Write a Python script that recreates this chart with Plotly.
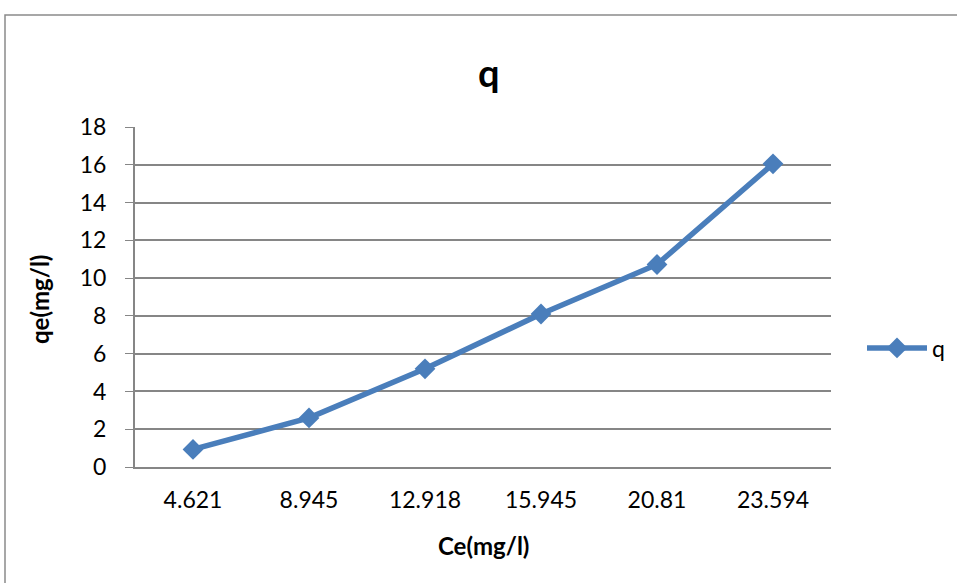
import plotly.graph_objects as go

# Equilibrium concentration (category labels) and adsorbed amount
ce_labels = ["4.621", "8.945", "12.918", "15.945", "20.81", "23.594"]
qe_values = [0.93, 2.6, 5.2, 8.1, 10.72, 16.05]
y_ticks = [0, 2, 4, 6, 8, 10, 12, 14, 16, 18]

W, H = 957, 583
L, R, T, B = 135, 126, 127, 116
pw, ph = W - L - R, H - T - B

FONT = "Lato, Liberation Sans, Arial, sans-serif"
BLUE = "#4A7EBB"
GRID = "#868686"

fig = go.Figure()
fig.add_trace(go.Scatter(
    x=ce_labels, y=qe_values, name="q", mode="lines+markers",
    line=dict(color=BLUE, width=5.5),
    marker=dict(symbol="diamond", size=16, color=BLUE),
))

def px_x(px):
    return (px - L) / pw

def px_y(py):
    return (H - B - py) / ph

fig.update_layout(
    width=W, height=H,
    margin=dict(l=L, r=R, t=T, b=B, autoexpand=False),
    paper_bgcolor="white", plot_bgcolor="white",
    font=dict(family=FONT, size=23, color="black"),
    showlegend=True,
    legend=dict(x=px_x(862), y=px_y(348), xanchor="left", yanchor="middle",
                itemwidth=60, font=dict(size=23), bgcolor="rgba(0,0,0,0)"),
    xaxis=dict(type="category", showgrid=False, showline=True,
               linecolor=GRID, linewidth=2, ticks="", tickfont=dict(size=23),
               ticklabelstandoff=11,
               range=[-0.5, 5.5], fixedrange=True),
    yaxis=dict(range=[0, 18], tickvals=y_ticks, showgrid=True,
               gridcolor=GRID, gridwidth=1.5, showline=True, linecolor=GRID,
               linewidth=2, ticks="outside", ticklen=8, tickcolor=GRID,
               ticklabelstandoff=14,
               tickfont=dict(size=23), zeroline=False, fixedrange=True),
    annotations=[
        dict(text="<b>q</b>", x=px_x(489), y=px_y(72), xref="paper", yref="paper",
             xanchor="center", yanchor="middle",
             showarrow=False, font=dict(size=38, family=FONT)),
        dict(text="<b>qe(mg/l)</b>", x=px_x(39), y=px_y(300), xref="paper",
             yref="paper", xanchor="center", yanchor="middle",
             showarrow=False, textangle=-90,
             font=dict(size=24, family=FONT)),
        dict(text="<b>Ce(mg/l)</b>", x=px_x(483), y=px_y(545), xref="paper",
             yref="paper", xanchor="center", yanchor="middle",
             showarrow=False, font=dict(size=24, family=FONT)),
    ],
    shapes=[
        dict(type="rect", xref="paper", yref="paper",
             x0=px_x(5), y0=px_y(700), x1=px_x(1100), y1=px_y(15),
             line=dict(color="#8a8a8a", width=1.5), fillcolor="rgba(0,0,0,0)",
             layer="below"),
    ],
)

fig.write_html("out.html")
